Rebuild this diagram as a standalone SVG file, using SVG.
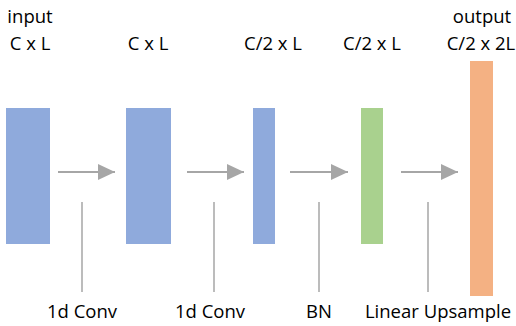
<svg xmlns="http://www.w3.org/2000/svg" width="516" height="326" viewBox="0 0 516 326">
  <style>
    text { font-family: "Open Sans", "Liberation Sans", sans-serif; font-size: 18.5px; fill: #000; text-anchor: middle; }
    .flow { stroke: #A6A6A6; stroke-width: 2; fill: none; }
    .tick { stroke: #A6A6A6; stroke-width: 1.5; fill: none; }
    .blue { fill: #8FAADC; }
    .green { fill: #A9D18E; }
    .orange { fill: #F4B183; }
  </style>
  <defs>
    <marker id="head" markerUnits="userSpaceOnUse" markerWidth="17" markerHeight="16" refX="17" refY="8" orient="auto">
      <path d="M0,0 L17,8 L0,16 Z" fill="#A6A6A6"/>
    </marker>
  </defs>

  <g id="input">
    <rect class="blue" x="6" y="108" width="44" height="136"/>
    <text x="30" y="23">input</text>
    <text x="30" y="50">C x L</text>
  </g>
  <g id="conv1-out">
    <rect class="blue" x="126" y="108" width="45" height="136"/>
    <text x="148" y="50">C x L</text>
  </g>
  <g id="conv2-out">
    <rect class="blue" x="253" y="108" width="22" height="136"/>
    <text x="273" y="50">C/2 x L</text>
  </g>
  <g id="bn-out">
    <rect class="green" x="361" y="108" width="22" height="136"/>
    <text x="372" y="50">C/2 x L</text>
  </g>
  <g id="output">
    <rect class="orange" x="470" y="61" width="23" height="235"/>
    <text x="482" y="23">output</text>
    <text x="481" y="50">C/2 x 2L</text>
  </g>

  <g id="connectors">
    <line class="flow" x1="58" y1="172" x2="115" y2="172" marker-end="url(#head)"/>
    <line class="flow" x1="187" y1="172" x2="244" y2="172" marker-end="url(#head)"/>
    <line class="flow" x1="290" y1="172" x2="348" y2="172" marker-end="url(#head)"/>
    <line class="flow" x1="401" y1="172" x2="458" y2="172" marker-end="url(#head)"/>
    <line class="tick" x1="82" y1="202" x2="82" y2="292"/>
    <line class="tick" x1="214" y1="202" x2="214" y2="292"/>
    <line class="tick" x1="319" y1="202" x2="319" y2="292"/>
    <line class="tick" x1="428" y1="202" x2="428" y2="292"/>
  </g>

  <g id="op-labels">
    <text x="82" y="318">1d Conv</text>
    <text x="210" y="318">1d Conv</text>
    <text x="319" y="318">BN</text>
    <text x="438" y="318">Linear Upsample</text>
  </g>
</svg>
